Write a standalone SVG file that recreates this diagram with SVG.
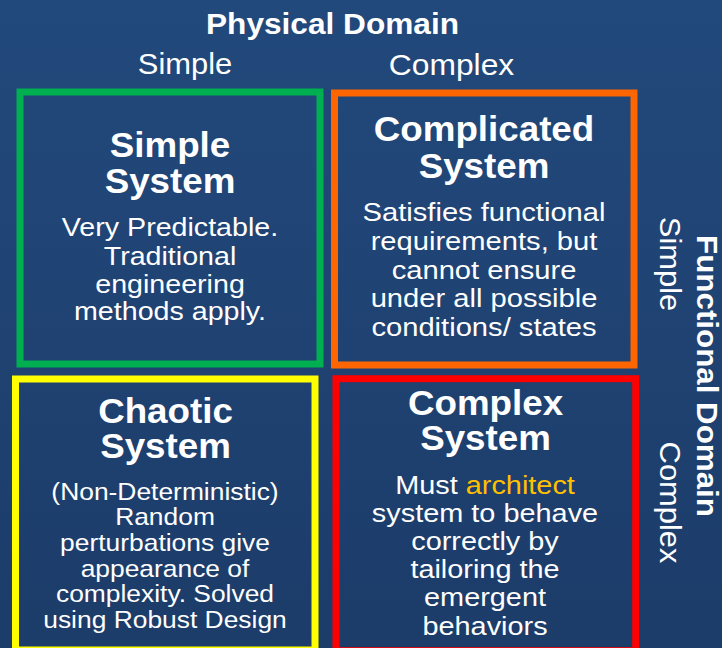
<svg xmlns="http://www.w3.org/2000/svg" width="722" height="648" viewBox="0 0 722 648">
  <defs>
    <linearGradient id="bg" x1="0" y1="0" x2="0" y2="1">
      <stop offset="0" stop-color="#22497C"/>
      <stop offset="1" stop-color="#1C3C69"/>
    </linearGradient>
    <style>
      text { font-family: "Liberation Sans", Arial, sans-serif; fill: #FFFFFF; text-anchor: middle; }
      .axis-title { font-size: 29px; font-weight: bold; }
      .axis-tick { font-size: 30px; }
      .box-title { font-size: 35px; font-weight: bold; }
      .body { font-size: 26.5px; }
      .body-sm { font-size: 24px; }
      .hl { fill: #FFC000; }
      .frame { fill: none; stroke-width: 7; }
    </style>
  </defs>

  <!-- backdrop -->
  <rect x="0" y="0" width="722" height="648" fill="url(#bg)"/>

  <!-- horizontal axis: physical domain -->
  <g id="physical-domain">
    <g transform="translate(332.5 0) scale(1.09 1)">
      <text class="axis-title" x="0" y="34">Physical Domain</text>
    </g>
    <g transform="translate(185 0) scale(1.03 1)">
      <text class="axis-tick" x="0" y="74">Simple</text>
    </g>
    <g transform="translate(451.5 0) scale(1.06 1)">
      <text class="axis-tick" x="0" y="75">Complex</text>
    </g>
  </g>

  <!-- vertical axis: functional domain (rotated text) -->
  <g id="functional-domain">
    <g transform="translate(697 376) rotate(90) scale(1.08 1)">
      <text class="axis-title" x="0" y="0">Functional Domain</text>
    </g>
    <g transform="translate(660 264) rotate(90) scale(1.03 1)">
      <text class="axis-tick" x="0" y="0">Simple</text>
    </g>
    <g transform="translate(660 502.5) rotate(90) scale(1.03 1)">
      <text class="axis-tick" x="0" y="0">Complex</text>
    </g>
  </g>

  <!-- quadrant: simple system -->
  <g id="simple-system">
    <rect class="frame" x="20" y="92" width="300" height="272" stroke="#00B050" stroke-width="6.5"/>
    <g transform="translate(170 0) scale(1.05 1)">
      <text class="box-title" x="0" y="157">Simple</text>
      <text class="box-title" x="0" y="193">System</text>
    </g>
    <g transform="translate(170 0) scale(1.08 1)">
      <text class="body" x="0" y="236.5">Very Predictable.</text>
      <text class="body" x="0" y="265">Traditional</text>
      <text class="body" x="0" y="293">engineering</text>
      <text class="body" x="0" y="320">methods apply.</text>
    </g>
  </g>

  <!-- quadrant: complicated system -->
  <g id="complicated-system">
    <rect class="frame" x="334.5" y="93" width="299.5" height="272" stroke="#FF6600"/>
    <g transform="translate(484 0) scale(1.05 1)">
      <text class="box-title" x="0" y="141.5">Complicated</text>
      <text class="box-title" x="0" y="178">System</text>
    </g>
    <g transform="translate(484 0) scale(1.1 1)">
      <text class="body" x="0" y="221.5">Satisfies functional</text>
      <text class="body" x="0" y="250.5">requirements, but</text>
      <text class="body" x="0" y="279">cannot ensure</text>
      <text class="body" x="0" y="307.5">under all possible</text>
      <text class="body" x="0" y="336">conditions/ states</text>
    </g>
  </g>

  <!-- quadrant: chaotic system -->
  <g id="chaotic-system">
    <rect class="frame" x="15.5" y="379" width="299.5" height="271" stroke="#FFFF00"/>
    <g transform="translate(165.5 0) scale(1.05 1)">
      <text class="box-title" x="0" y="423">Chaotic</text>
      <text class="box-title" x="0" y="458">System</text>
    </g>
    <g transform="translate(165 0) scale(1.1 1)">
      <text class="body-sm" x="0" y="500">(Non-Deterministic)</text>
      <text class="body-sm" x="0" y="525.5">Random</text>
      <text class="body-sm" x="0" y="551.5">perturbations give</text>
      <text class="body-sm" x="0" y="577">appearance of</text>
      <text class="body-sm" x="0" y="602.5">complexity. Solved</text>
      <text class="body-sm" x="0" y="628">using Robust Design</text>
    </g>
  </g>

  <!-- quadrant: complex system -->
  <g id="complex-system">
    <rect class="frame" x="336" y="378.7" width="299.7" height="272" stroke="#FF0000"/>
    <g transform="translate(485.5 0) scale(1.05 1)">
      <text class="box-title" x="0" y="415">Complex</text>
      <text class="box-title" x="0" y="450.5">System</text>
    </g>
    <g transform="translate(485 0) scale(1.09 1)">
      <text class="body" x="0" y="494">Must <tspan class="hl">architect</tspan></text>
      <text class="body" x="0" y="522">system to behave</text>
      <text class="body" x="0" y="550">correctly by</text>
      <text class="body" x="0" y="578">tailoring the</text>
      <text class="body" x="0" y="606">emergent</text>
      <text class="body" x="0" y="635.5">behaviors</text>
    </g>
  </g>
</svg>
